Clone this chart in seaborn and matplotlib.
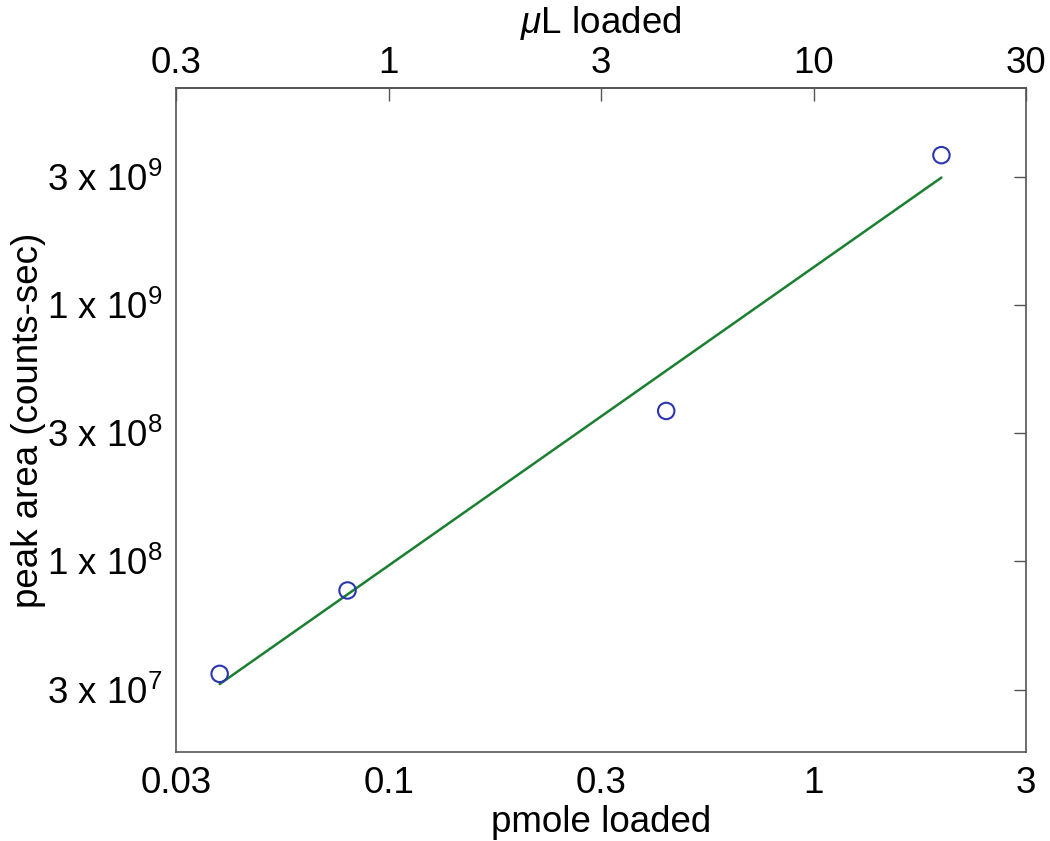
import numpy as np
import pandas as pd
import matplotlib
matplotlib.use("Agg")
import matplotlib.pyplot as plt
import seaborn as sns

# data
pmole = [0.04, 0.08, 0.45, 2.0]
peak_area = [3.64e7, 7.7e7, 3.86e8, 3.84e9]
fit_pmole = [0.04, 2.0]
fit_area = [3.32e7, 3.14e9]

x_ticks = [10**-1.5, 10**-1, 10**-0.5, 1, 10**0.5]
x_ticklabels = ["0.03", "0.1", "0.3", "1", "3"]
top_ticks = [10**-0.5, 1, 10**0.5, 10, 10**1.5]
top_ticklabels = ["0.3", "1", "3", "10", "30"]
y_ticks = [10**7.5, 1e8, 10**8.5, 1e9, 10**9.5]
y_ticklabels = [r"3 x 10$^{7}$", r"1 x 10$^{8}$", r"3 x 10$^{8}$",
                r"1 x 10$^{9}$", r"3 x 10$^{9}$"]

sns.set_theme(style="white")
plt.rcParams["font.family"] = ["Liberation Sans", "DejaVu Sans"]
plt.rcParams["mathtext.fontset"] = "custom"
plt.rcParams["mathtext.rm"] = "Liberation Sans"
plt.rcParams["mathtext.it"] = "Liberation Sans:italic"
plt.rcParams["text.color"] = "black"
plt.rcParams["axes.labelcolor"] = "black"

df = pd.DataFrame({"pmole": pmole, "area": peak_area})
fit = pd.DataFrame({"pmole": fit_pmole, "area": fit_area})

fig = plt.figure(figsize=(10.5, 8.41), dpi=100)
ax = fig.add_axes([0.1679, 0.1055, 0.8092, 0.7895])

sns.lineplot(data=fit, x="pmole", y="area", ax=ax, color="#1a8031", linewidth=1.8)
sns.scatterplot(data=df, x="pmole", y="area", ax=ax, marker="o", s=140,
                facecolor="none", edgecolor="#2a35b0", linewidth=1.5, zorder=3)

ax.set_xscale("log")
ax.set_yscale("log")
ax.set_xlim(10**-1.5, 10**0.5)
ax.set_ylim(1.8e7, 7e9)

ax.set_xticks(x_ticks)
ax.set_xticklabels(x_ticklabels)
ax.set_yticks(y_ticks)
ax.set_yticklabels(y_ticklabels)
ax.minorticks_off()
ax.tick_params(axis="both", which="major", direction="in", length=9, width=1,
               color="#555555", labelcolor="black", labelsize=26.5, pad=10,
               right=True)

ax.set_xlabel("pmole loaded", fontsize=26.5, color="black")
ax.xaxis.set_label_coords(0.5, -0.08)
ax.set_ylabel("peak area (counts-sec)", fontsize=26.5, color="black")
ax.yaxis.set_label_coords(-0.153, 0.5)

top = ax.secondary_xaxis("top", functions=(lambda x: x * 10, lambda x: x / 10))
top.set_xticks(top_ticks)
top.set_xticklabels(top_ticklabels)
top.minorticks_off()
top.tick_params(direction="in", length=9, width=1, color="#555555",
                labelcolor="black", labelsize=26.5, pad=5)
top.set_xlabel(r"$\mu$L loaded", fontsize=26.5, color="black")
top.xaxis.set_label_coords(0.5, 1.083, transform=ax.transAxes)
top.spines["top"].set_color("#555555")

for s in ax.spines.values():
    s.set_color("#555555")
    s.set_linewidth(1.2)

fig.savefig("out.png", dpi=100)
